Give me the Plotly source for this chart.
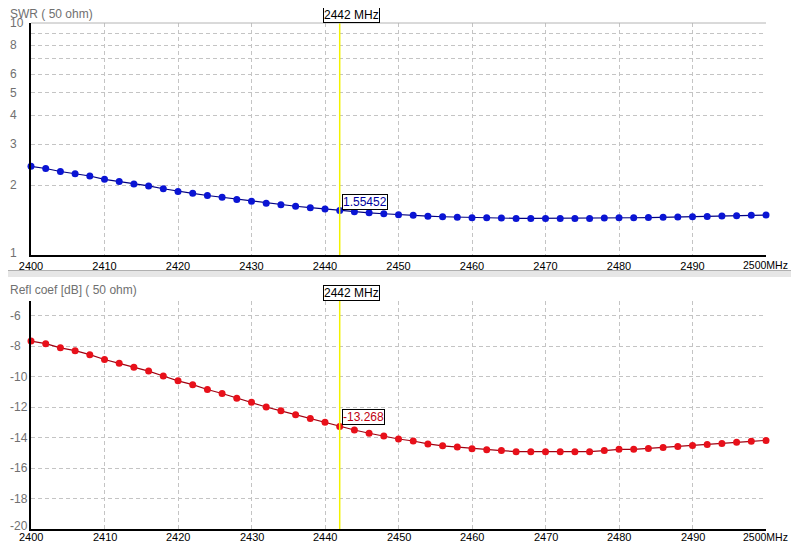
import numpy as np
import plotly.graph_objects as go

# sweep points (MHz)
FREQ = list(range(2400, 2501, 2))

# SWR (50 ohm)
SWR = [2.41, 2.36, 2.29, 2.24, 2.19, 2.12, 2.075, 2.025, 1.985, 1.93,
       1.88, 1.845, 1.805, 1.772, 1.735, 1.706, 1.672, 1.647, 1.622, 1.599,
       1.578, 1.55452, 1.536, 1.520, 1.506, 1.492, 1.483, 1.470, 1.462, 1.456,
       1.449, 1.446, 1.442, 1.438, 1.438, 1.438, 1.438, 1.438, 1.438, 1.442,
       1.447, 1.447, 1.450, 1.455, 1.459, 1.463, 1.467, 1.471, 1.477, 1.482,
       1.486]

# reflection coefficient (dB)
REFL_DB = [-7.66, -7.83, -8.10, -8.29, -8.55, -8.87, -9.12, -9.38, -9.63, -9.95,
           -10.27, -10.52, -10.84, -11.10, -11.41, -11.67, -11.99, -12.24, -12.50, -12.75,
           -12.99, -13.268, -13.50, -13.71, -13.90, -14.09, -14.22, -14.41, -14.54, -14.62,
           -14.73, -14.79, -14.85, -14.92, -14.92, -14.92, -14.92, -14.92, -14.92, -14.85,
           -14.77, -14.77, -14.71, -14.64, -14.58, -14.52, -14.45, -14.39, -14.31, -14.24,
           -14.18]

MARKER_F = 2442
X_TICKS = list(range(2400, 2501, 10))
X_TICK_TEXT = [str(v) for v in X_TICKS[:-1]] + [""]   # last one is drawn with its unit
LAST_TICK_TEXT = "2500MHz"
SWR_TICKS = [1, 2, 3, 4, 5, 6, 7, 8, 9, 10]
SWR_TICK_TEXT = ["1", "2", "3", "4", "5", "6", "", "8", "", "10"]
DB_TICKS = [-20, -18, -16, -14, -12, -10, -8, -6]

# the page body keeps its 8px margin; only window columns up to 791 are shown
OFF = 8
WIN_W, WIN_H = 791, 552
W, H = WIN_W - OFF, WIN_H - 2 * OFF
TOP_PLOT, BOT_PLOT = 23, 529          # window rows of the outer plot edges
ML, MR = 31 - OFF, WIN_W - 766
MT, MB = TOP_PLOT - OFF, H - (BOT_PLOT - OFF)
PW, PH = W - ML - MR, H - MT - MB


def py(wy):
    # window row -> paper y
    return (H - MB - (wy - OFF)) / PH


def pxx(wx):
    # window column -> paper x
    return (wx - OFF - ML) / PW


FONT = "Arial, Liberation Sans, sans-serif"
GRID = "#c4c4c4"
LABEL_GRAY = "#707070"

fig = go.Figure()
fig.add_trace(go.Scatter(x=FREQ, y=SWR, mode="lines+markers", xaxis="x", yaxis="y",
                         line=dict(color="#000080", width=1.2),
                         marker=dict(color="#0a14d4", size=7), cliponaxis=False,
                         showlegend=False))
fig.add_trace(go.Scatter(x=FREQ, y=REFL_DB, mode="lines+markers", xaxis="x2", yaxis="y2",
                         line=dict(color="#a00010", width=1.2),
                         marker=dict(color="#e8101a", size=7), cliponaxis=False,
                         showlegend=False))

top_dom = [py(255), 1]
bot_dom = [0, py(300.6)]

xcommon = dict(range=[2400, 2500], tickmode="array", tickvals=X_TICKS, ticktext=X_TICK_TEXT,
               showgrid=True, gridcolor=GRID, griddash="4px,3px", gridwidth=1,
               showline=True, linecolor="black", linewidth=2, ticks="", zeroline=False,
               tickfont=dict(family=FONT, size=11, color="black"))
ycommon = dict(tickmode="array", showticklabels=False,
               showgrid=True, gridcolor=GRID, griddash="4px,3px",
               showline=True, linecolor="black", linewidth=2, ticks="", zeroline=False)
fig.update_layout(
    width=W, height=H,
    margin=dict(l=ML, r=MR, t=MT, b=MB),
    paper_bgcolor="white", plot_bgcolor="white",
    xaxis=dict(domain=[0, 1], anchor="y", **xcommon),
    xaxis2=dict(domain=[0, 1], anchor="y2", **dict(xcommon, showticklabels=False)),
    yaxis=dict(domain=top_dom, anchor="x", type="log", range=[0, 1],
               tickvals=SWR_TICKS, **ycommon),
    yaxis2=dict(domain=bot_dom, anchor="x2", range=[-20, -5],
                tickvals=DB_TICKS, **ycommon),
)

lab = dict(family=FONT, size=12, color=LABEL_GRAY)
xlab = dict(family=FONT, size=11, color="black")
ann = []
# y tick labels, left aligned like the original; the lowest sits a little high
for v, t in zip(SWR_TICKS, SWR_TICK_TEXT):
    if t:
        ann.append(dict(text=t, xref="paper", x=pxx(8), xanchor="left", yref="y",
                        y=np.log10(v), yanchor="middle", yshift=2 if v == SWR_TICKS[0] else 0,
                        showarrow=False, font=lab))
for v in DB_TICKS:
    ann.append(dict(text=str(v), xref="paper", x=pxx(8), xanchor="left", yref="y2",
                    y=v, yanchor="middle", yshift=3 if v == DB_TICKS[0] else 0,
                    showarrow=False, font=lab))

# lower x tick labels (kept clear of the window's bottom edge)
for v, t in zip(X_TICKS, X_TICK_TEXT):
    if t:
        ann.append(dict(text=t, xref="x2", x=v, xanchor="center", yref="paper", y=py(537),
                        yanchor="middle", showarrow=False, font=xlab))

# last tick with its unit, pulled in so it stays inside the window
for yy in (py(265), py(537)):
    ann.append(dict(text=LAST_TICK_TEXT, xref="paper", x=pxx(WIN_W - 1), xanchor="right",
                    yref="paper", y=yy, yanchor="middle", showarrow=False,
                    font=dict(family=FONT, size=10.5, color="black")))

# panel titles
ann.append(dict(text="SWR ( 50 ohm)", xref="paper", x=pxx(8), xanchor="left",
                yref="paper", y=py(14.5), yanchor="middle", showarrow=False, font=lab))
ann.append(dict(text="Refl coef [dB] ( 50 ohm)", xref="paper", x=pxx(8), xanchor="left",
                yref="paper", y=py(290), yanchor="middle", showarrow=False, font=lab))

# marker frequency boxes
for yy in (1, bot_dom[1]):
    ann.append(dict(text=f"{MARKER_F} MHz", xref="x", x=MARKER_F, xanchor="left", xshift=-17,
                    yref="paper", y=yy, yanchor="bottom", yshift=0, showarrow=False,
                    bgcolor="white", bordercolor="black", borderwidth=1, borderpad=0,
                    font=dict(family=FONT, size=12, color="black")))

# marker value boxes
i = FREQ.index(MARKER_F)
ann.append(dict(text=f"{SWR[i]:.5f}", xref="x", x=MARKER_F, xanchor="left", xshift=2,
                yref="y", y=np.log10(SWR[i]), yanchor="bottom", yshift=1, showarrow=False,
                bgcolor="white", bordercolor="black", borderwidth=1, borderpad=0,
                font=dict(family=FONT, size=12, color="#0000a0")))
ann.append(dict(text=f"{REFL_DB[i]:.3f}", xref="x2", x=MARKER_F, xanchor="left", xshift=2,
                yref="y2", y=REFL_DB[i], yanchor="bottom", yshift=1, showarrow=False,
                bgcolor="white", bordercolor="black", borderwidth=1, borderpad=0,
                font=dict(family=FONT, size=12, color="#c00010")))
fig.update_layout(annotations=ann)

shapes = [
    # marker lines
    dict(type="line", xref="x", yref="y domain", x0=MARKER_F, x1=MARKER_F, y0=0, y1=1,
         line=dict(color="#f2f200", width=1.5), layer="above"),
    dict(type="line", xref="x2", yref="y2 domain", x0=MARKER_F, x1=MARKER_F, y0=0, y1=1,
         line=dict(color="#f2f200", width=1.5), layer="above"),
    # top frame of upper panel
    dict(type="line", xref="x domain", yref="y domain", x0=0, x1=1, y0=1, y1=1,
         line=dict(color="#b4b4b4", width=1)),
    # splitter between the panels
    dict(type="rect", xref="paper", yref="paper", x0=pxx(OFF), x1=pxx(WIN_W), y0=py(277), y1=py(270),
         fillcolor="#e6e6e6", line=dict(width=0), layer="below"),
    dict(type="line", xref="paper", yref="paper", x0=pxx(OFF), x1=pxx(WIN_W), y0=py(270.5), y1=py(270.5),
         line=dict(color="#b0b0b0", width=1)),
]
fig.update_layout(shapes=shapes)

fig.write_html("out.html")
